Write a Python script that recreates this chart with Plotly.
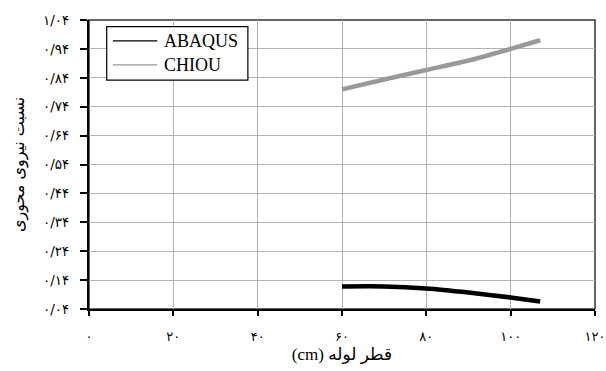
import plotly.graph_objects as go

# Pipe diameter (cm) and axial force ratio for the two methods
diameter = [60, 70, 80, 90, 100, 107]
abaqus = [0.118, 0.118, 0.111, 0.097, 0.080, 0.066]
chiou = [0.800, 0.834, 0.867, 0.900, 0.940, 0.970]

series_names = ["ABAQUS", "CHIOU"]
series_colors = ["#000000", "#999999"]

x_ticks = [0, 20, 40, 60, 80, 100, 120]
x_labels = ["۰", "۲۰", "۴۰", "۶۰", "۸۰", "۱۰۰", "۱۲۰"]
y_ticks = [0.04, 0.14, 0.24, 0.34, 0.44, 0.54, 0.64, 0.74, 0.84, 0.94, 1.04]
y_labels = ["۰/۰۴", "۰/۱۴", "۰/۲۴", "۰/۳۴", "۰/۴۴", "۰/۵۴",
            "۰/۶۴", "۰/۷۴", "۰/۸۴", "۰/۹۴", "۱/۰۴"]

x_title = "(cm) قطر لوله"
y_title = "نسبت نیروی محوری"

fig = go.Figure()

# Thick data lines
for name, ys, col in zip(series_names, [abaqus, chiou], series_colors):
    fig.add_trace(go.Scatter(
        x=diameter, y=ys, mode="lines", name=name, showlegend=False,
        line=dict(color=col, width=4.5, shape="spline", smoothing=0.6),
    ))

# Plot frame (top and right edges)
fig.add_shape(type="rect", xref="paper", yref="paper", x0=0, y0=0, x1=1, y1=1,
              line=dict(color="#333333", width=1.5), layer="below")

serif = "Liberation Serif, DejaVu Sans, serif"
arabic = "DejaVu Sans, Noto Sans, sans-serif"

# Boxed key with thin line samples
fig.add_shape(type="rect", xref="paper", yref="paper",
              x0=0.035, x1=0.314, y0=0.792, y1=0.977,
              line=dict(color="black", width=1.2), fillcolor="white", layer="above")
key_rows = [0.928, 0.845]
for name, col, ky in zip(series_names, series_colors, key_rows):
    fig.add_shape(type="line", xref="paper", yref="paper",
                  x0=0.047, x1=0.135, y0=ky, y1=ky,
                  line=dict(color=col, width=1.3), layer="above")
    fig.add_annotation(xref="paper", yref="paper", x=0.145, y=ky,
                       xanchor="left", yanchor="middle", showarrow=False,
                       text=name, font=dict(family=serif, size=18, color="black"))

fig.update_layout(
    width=606, height=371,
    margin=dict(l=89, r=11, t=20, b=62),
    paper_bgcolor="white", plot_bgcolor="white",
    showlegend=False,
    xaxis=dict(
        range=[0, 120], tickvals=x_ticks, ticktext=x_labels,
        showgrid=True, gridcolor="#b4b4b4", gridwidth=1,
        showline=True, linecolor="black", linewidth=2,
        ticks="outside", ticklen=5, tickwidth=1.5, tickcolor="black",
        ticklabelstandoff=9, automargin=False,
        tickfont=dict(family=arabic, size=13, color="black"),
        zeroline=False,
        title=dict(text=x_title, font=dict(family=serif, size=17, color="black"),
                   standoff=6),
    ),
    yaxis=dict(
        range=[0.04, 1.04], tickvals=y_ticks, ticktext=y_labels,
        showgrid=True, gridcolor="#b4b4b4", gridwidth=1,
        showline=True, linecolor="black", linewidth=2,
        ticks="outside", ticklen=7, tickwidth=1.5, tickcolor="black",
        ticklabelstandoff=8, automargin=False,
        tickfont=dict(family=arabic, size=13.5, color="black"),
        zeroline=False,
        title=dict(text=y_title, font=dict(family=arabic, size=16, color="black"),
                   standoff=14),
    ),
)

fig.write_html("out.html")
